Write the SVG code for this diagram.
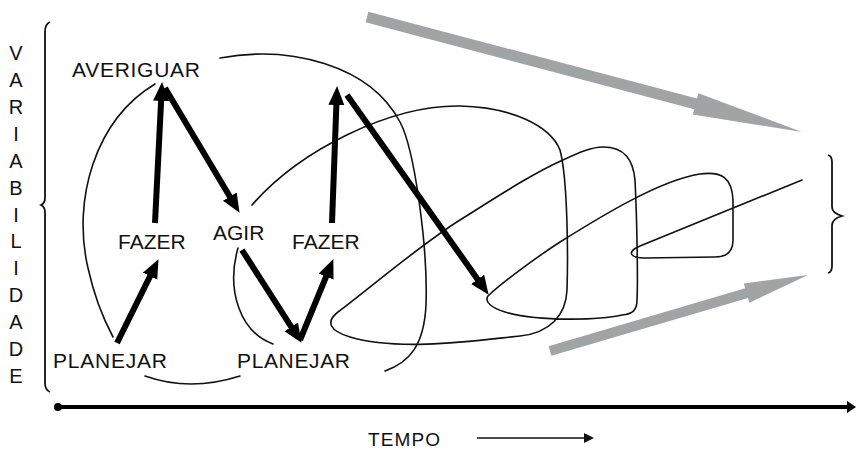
<svg xmlns="http://www.w3.org/2000/svg" width="858" height="449" viewBox="0 0 858 449">
<style>
text{font-family:"Liberation Sans",Arial,sans-serif;fill:#111;}
.lbl{font-size:21px;}
.v{font-size:20px;text-anchor:middle;}
.thin{fill:none;stroke:#111;stroke-width:1.6;stroke-linecap:round;stroke-linejoin:round;}
.brace{fill:none;stroke:#111;stroke-width:1.8;}
.bold{fill:none;stroke:#000;stroke-width:6;}
.gray{fill:#a1a4a4;}
</style>
<defs>
<marker id="ah" markerUnits="userSpaceOnUse" markerWidth="20" markerHeight="18" refX="6" refY="8" orient="auto">
<path d="M0,0 L19,8 L0,16 z" fill="#000"/>
</marker>
<marker id="sa" markerUnits="userSpaceOnUse" markerWidth="12" markerHeight="10" refX="2" refY="5" orient="auto">
<path d="M0,0 L10,5 L0,10 z" fill="#111"/>
</marker>
<marker id="axh" markerUnits="userSpaceOnUse" markerWidth="12" markerHeight="12" refX="3" refY="6" orient="auto">
<path d="M0,0 L9,6 L0,12 z" fill="#000"/>
</marker>
</defs>

<g id="axis-y">
<path class="brace" d="M50,22 Q45,24 45,32 L45,198 Q45,203 41,205 Q45,207 45,212 L45,383 Q45,390 50,392"/>
<text class="v" x="16" y="60">V</text>
<text class="v" x="16" y="87">A</text>
<text class="v" x="16" y="114">R</text>
<text class="v" x="16" y="141">I</text>
<text class="v" x="16" y="168">A</text>
<text class="v" x="16" y="195">B</text>
<text class="v" x="16" y="222">I</text>
<text class="v" x="16" y="248">L</text>
<text class="v" x="16" y="275">I</text>
<text class="v" x="16" y="302">D</text>
<text class="v" x="16" y="329">A</text>
<text class="v" x="16" y="356">D</text>
<text class="v" x="16" y="383">E</text>
</g>

<g id="brace-right">
<path class="brace" d="M828,155 Q832,156 832,162 L832,207 Q832,213 842,216 Q832,219 832,225 L832,266 Q832,272 828,273"/>
</g>

<g id="curves">
<path class="thin" d="M155,84 C95,120 72,200 88,268 C95,300 105,322 113,337"/>
<path class="thin" d="M220,58 C290,45 370,65 400,122 C415,150 428,250 426,305 C424,345 410,362 385,371"/>
<path class="thin" d="M145,376 Q190,392 240,376"/>
<path class="thin" d="M238,248 C226,290 240,332 273,344"/>
<path class="thin" d="M252,205 C300,150 390,105 460,106 C510,107 550,125 560,150 C568,180 568,260 567,290 C566,315 550,333 520,336 C480,340 400,352 350,337 C330,331 325,322 338,312 C370,288 420,245 460,220 C495,198 535,172 563,160 C580,152 592,147 603,147 C625,147 633,160 635,180 C637,220 638,280 637,300 C637,310 633,314 622,315 C600,320 540,322 505,312 C492,308 484,302 488,296 C505,280 540,255 560,242 C600,217 660,180 700,174 C722,171 732,178 733,200 L733,240 C733,252 727,257 715,257 L645,258 C630,258 626,252 640,246 L802,180"/>
</g>

<g id="connectors">
<line class="bold" x1="117" y1="343" x2="152.7" y2="270.8" marker-end="url(#ah)"/>
<line class="bold" x1="155" y1="223" x2="161.4" y2="95" marker-end="url(#ah)"/>
<line class="bold" x1="165" y1="88" x2="232.9" y2="201.7" marker-end="url(#ah)"/>
<line class="bold" x1="242" y1="250" x2="294.5" y2="331.9" marker-end="url(#ah)"/>
<line class="bold" x1="300" y1="340" x2="328.4" y2="271.1" marker-end="url(#ah)"/>
<line class="bold" x1="332" y1="223" x2="336.6" y2="99" marker-end="url(#ah)"/>
<line class="bold" x1="347" y1="95" x2="481.1" y2="284.2" marker-end="url(#ah)"/>
<polygon class="gray" points="368.4,11.7 697,98.6 698.4,93.3 802,132 692.8,114.5 694.2,109.2 365.6,22.3"/>
<polygon class="gray" points="548.6,346.2 745.2,288.3 743.8,283.5 808,275 749.4,302.7 748,297.9 551.4,355.8"/>
</g>

<g id="node-averiguar"><text class="lbl" x="72" y="77" font-size="20" textLength="128">AVERIGUAR</text></g>
<g id="node-fazer1"><text class="lbl" x="118" y="249">FAZER</text></g>
<g id="node-agir"><text class="lbl" x="213" y="240">AGIR</text></g>
<g id="node-fazer2"><text class="lbl" x="292" y="249">FAZER</text></g>
<g id="node-planejar1"><text class="lbl" x="53" y="368" textLength="114">PLANEJAR</text></g>
<g id="node-planejar2"><text class="lbl" x="237" y="368" textLength="113">PLANEJAR</text></g>

<g id="axis-x">
<line x1="57" y1="407" x2="850" y2="407" stroke="#000" stroke-width="4" marker-end="url(#axh)"/>
<circle cx="58" cy="407" r="4" fill="#000"/>
<text x="368" y="446" font-size="19" textLength="72">TEMPO</text>
<line x1="477" y1="438" x2="586" y2="438" stroke="#111" stroke-width="1.6" marker-end="url(#sa)"/>
</g>
</svg>
